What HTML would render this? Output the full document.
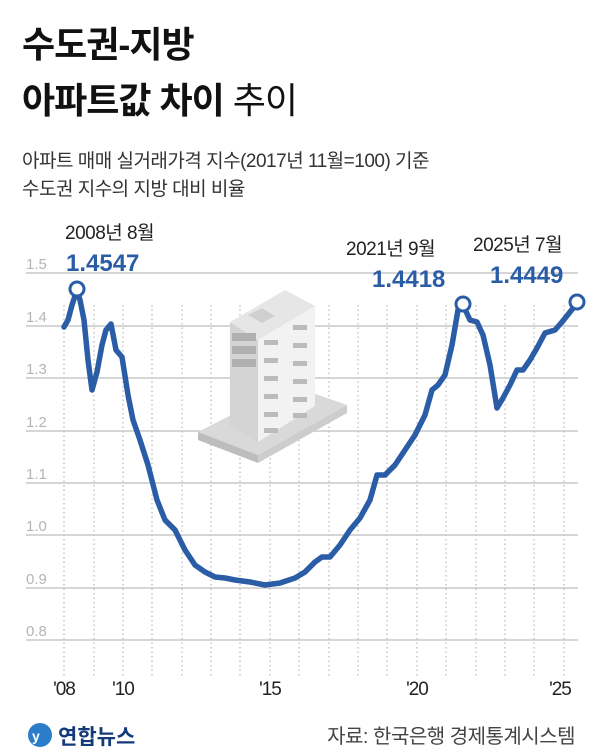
<!DOCTYPE html>
<html><head><meta charset="utf-8"><style>
body{margin:0;background:#fff;}
.w{position:relative;width:600px;height:755px;overflow:hidden;font-family:"Liberation Sans","Noto Sans CJK KR",sans-serif;}
.t{position:absolute;left:22px;font-weight:bold;font-size:36px;color:#111;letter-spacing:-1px;}
.s{position:absolute;left:22px;font-size:19px;color:#333;letter-spacing:-0.5px;}
</style></head><body><div class="w">
<div class="t" style="top:16px">수도권-지방</div>
<div class="t" style="top:72px">아파트값 차이 <span style="font-weight:normal">추이</span></div>
<div class="s" style="top:146px">아파트 매매 실거래가격 지수(2017년 11월=100) 기준</div>
<div class="s" style="top:174px">수도권 지수의 지방 대비 비율</div>
<svg width="600" height="755" style="position:absolute;left:0;top:0" font-family="Liberation Sans, Noto Sans CJK KR, sans-serif">
<g stroke="#aaa" stroke-width="1" stroke-dasharray="1.5,3">
<line x1="64" y1="305" x2="64" y2="676"/><line x1="94" y1="305" x2="94" y2="676"/><line x1="123" y1="305" x2="123" y2="676"/><line x1="152" y1="305" x2="152" y2="676"/><line x1="182" y1="305" x2="182" y2="676"/><line x1="211" y1="305" x2="211" y2="676"/><line x1="240" y1="305" x2="240" y2="676"/><line x1="270" y1="305" x2="270" y2="676"/><line x1="299" y1="305" x2="299" y2="676"/><line x1="329" y1="305" x2="329" y2="676"/><line x1="358" y1="305" x2="358" y2="676"/><line x1="387" y1="305" x2="387" y2="676"/><line x1="417" y1="305" x2="417" y2="676"/><line x1="446" y1="305" x2="446" y2="676"/><line x1="476" y1="305" x2="476" y2="676"/><line x1="505" y1="305" x2="505" y2="676"/><line x1="534" y1="305" x2="534" y2="676"/><line x1="564" y1="305" x2="564" y2="676"/>
</g>
<g stroke="#c8c8c8" stroke-width="1.5">
<line x1="26" y1="273" x2="578" y2="273"/><line x1="26" y1="326" x2="578" y2="326"/><line x1="26" y1="378" x2="578" y2="378"/><line x1="26" y1="431" x2="578" y2="431"/><line x1="26" y1="483" x2="578" y2="483"/><line x1="26" y1="535" x2="578" y2="535"/><line x1="26" y1="588" x2="578" y2="588"/><line x1="26" y1="640" x2="578" y2="640"/>
</g>
<g fill="#b5b5b5" font-size="15">
<text x="26" y="269">1.5</text><text x="26" y="322">1.4</text><text x="26" y="374">1.3</text><text x="26" y="427">1.2</text><text x="26" y="479">1.1</text><text x="26" y="531">1.0</text><text x="26" y="584">0.9</text><text x="26" y="636">0.8</text>
</g>
<g fill="#222" font-size="19" text-anchor="middle" letter-spacing="-1">
<text x="64" y="695">'08</text><text x="123" y="695">'10</text><text x="270" y="695">'15</text><text x="417" y="695">'20</text><text x="560" y="695">'25</text>
</g>
<polygon points="198,432 290,385 347,405 258,455" fill="#d9d9d9"/>
<polygon points="198,432 258,455 258,463 198,440" fill="#bdbdbd"/>
<polygon points="258,455 347,405 347,413 258,463" fill="#cdcdcd"/>
<polygon points="230,322 258,340 258,442 230,426" fill="#d4d4d4"/>
<polygon points="258,340 315,306 315,406 258,442" fill="#f2f2f2"/>
<polygon points="230,322 285,290 315,306 258,340" fill="#e6e6e6"/>
<polygon points="248,315 262,308 275,316 262,323" fill="#d0d0d0"/>
<g fill="#b0b0b0"><rect x="232" y="333" width="24" height="8"/><rect x="232" y="346" width="24" height="8"/><rect x="232" y="359" width="24" height="8"/></g>
<g fill="#bbb">
<rect x="264" y="340" width="14" height="5"/><rect x="293" y="325" width="14" height="5"/>
<rect x="264" y="358" width="14" height="5"/><rect x="293" y="343" width="14" height="5"/>
<rect x="264" y="376" width="14" height="5"/><rect x="293" y="361" width="14" height="5"/>
<rect x="264" y="394" width="14" height="5"/><rect x="293" y="379" width="14" height="5"/>
<rect x="264" y="412" width="14" height="5"/><rect x="293" y="397" width="14" height="5"/>
<rect x="264" y="428" width="14" height="5"/><rect x="293" y="413" width="14" height="5"/>
</g>
<polyline fill="none" stroke="#2a5da6" stroke-width="5.5" stroke-linejoin="round" stroke-linecap="round" points="64,327 68,320 72,305 77,290 80,300 84,320 88,360 92,390 97,372 102,345 106,330 111,324 116,350 122,357 128,395 133,420 140,440 148,465 157,500 165,520 175,530 185,550 195,565 205,572 215,577 225,578 235,580 250,582 265,585 280,583 295,578 305,572 315,562 322,557 330,557 340,545 350,530 360,518 370,500 377,475 385,475 395,465 405,450 415,435 425,415 432,390 438,385 445,375 452,345 458,310 463,305 470,320 477,322 483,335 490,365 497,408 503,398 510,385 517,370 523,370 530,360 537,348 545,333 555,330 562,322 570,312 577,303"/>
<g fill="#fff" stroke="#2a5da6" stroke-width="3"><circle cx="77" cy="289" r="7"/><circle cx="463" cy="304" r="7"/><circle cx="577" cy="302" r="7"/></g>
<g font-size="19" fill="#222" letter-spacing="-0.5">
<text x="65" y="239">2008년 8월</text><text x="346" y="255">2021년 9월</text><text x="473" y="251">2025년 7월</text>
</g>
<g font-size="24" font-weight="bold" fill="#2a5da6">
<text x="66" y="271">1.4547</text><text x="372" y="287">1.4418</text><text x="490" y="283">1.4449</text>
</g>
<circle cx="40" cy="735" r="12" fill="#2b7cc9"/>
<text x="32" y="741" font-size="14" fill="#fff" font-weight="bold">y</text>
<text x="58" y="744" font-size="21" font-weight="bold" fill="#143a7a">연합뉴스</text>
<text x="575" y="743" font-size="20" fill="#444" text-anchor="end" letter-spacing="-0.5">자료: 한국은행 경제통계시스템</text>
</svg>
</div></body></html>
